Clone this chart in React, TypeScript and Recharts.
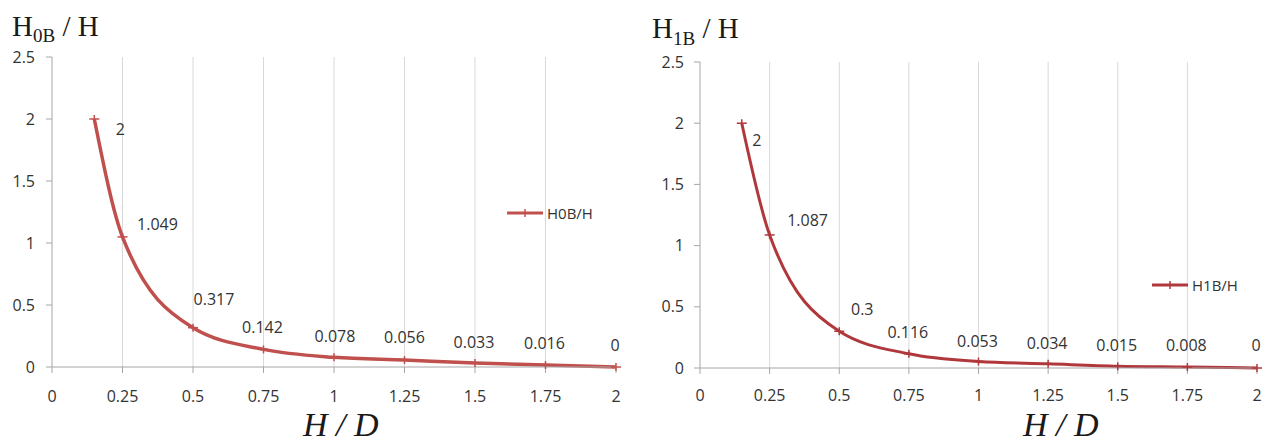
import React from 'react';
import { LineChart, Line, XAxis, YAxis, ReferenceLine, LabelList, Legend } from 'recharts';

// H/D positions of the computed points
const X_VALUES = [0.15, 0.25, 0.5, 0.75, 1, 1.25, 1.5, 1.75, 2];
const H0B_VALUES = [2, 1.049, 0.317, 0.142, 0.078, 0.056, 0.033, 0.016, 0];
const H1B_VALUES = [2, 1.087, 0.3, 0.116, 0.053, 0.034, 0.015, 0.008, 0];

const X_TICKS = [0, 0.25, 0.5, 0.75, 1, 1.25, 1.5, 1.75, 2];
const Y_TICKS = [0, 0.5, 1, 1.5, 2, 2.5];
const GRID_X = [0.25, 0.5, 0.75, 1, 1.25, 1.5, 1.75];

// label nudges (px) so the value labels sit where Excel left them
const H0B_LABEL_SHIFT = [[26, 10], [35, -13], [21, -29], [-1, -22], [1, -21], [0, -23], [-1, -21], [-1, -22], [-1, -22]];
const H1B_LABEL_SHIFT = [[15, 17], [38, -15], [23, -22], [-1, -22], [-1, -21], [-1, -21], [-1, -21], [-1, -22], [-1, -23]];

const FONT = '"Open Sans", sans-serif';
const SERIF = '"Liberation Serif", "Times New Roman", serif';
const TEXT = '#333333';
const AXIS = '#a6a6a6';
const GRID = '#d9d9d9';

const h0bData = X_VALUES.map((x, i) => ({ x, value: H0B_VALUES[i] }));
const h1bData = X_VALUES.map((x, i) => ({ x, value: H1B_VALUES[i] }));

function plusDot(color: string) {
  return (props: any) => {
    const { cx, cy, index } = props;
    if (cx == null || cy == null) return <g key={index} />;
    return (
      <g key={index} stroke={color} strokeWidth={1.5}>
        <line x1={cx - 5} x2={cx + 5} y1={cy} y2={cy} />
        <line x1={cx} x2={cx} y1={cy - 4} y2={cy + 4} />
      </g>
    );
  };
}

function valueLabel(shift: number[][]) {
  return (props: any) => {
    const { x, y, value, index } = props;
    const [dx, dy] = shift[index] || [0, -22];
    return (
      <text x={x + dx} y={y + dy} textAnchor="middle" dominantBaseline="central"
        fontFamily={FONT} fontSize={16} fill={TEXT}>
        {value}
      </text>
    );
  };
}

function legendContent(props: any) {
  const item = (props.payload || [])[0];
  if (!item) return null;
  return (
    <div style={{ display: 'flex', alignItems: 'center', height: 20 }}>
      <svg width={40} height={20}>
        <line x1={2} x2={38} y1={10} y2={10} stroke={item.color} strokeWidth={3} />
        <line x1={20} x2={20} y1={6} y2={14} stroke={item.color} strokeWidth={1.5} />
      </svg>
      <span style={{ fontFamily: FONT, fontSize: 15, color: TEXT, marginLeft: 2 }}>{item.value}</span>
    </div>
  );
}

type PanelProps = {
  data: { x: number; value: number }[];
  name: string;
  color: string;
  strokeWidth: number;
  width: number;
  margin: { top: number; right: number; bottom: number; left: number };
  yTickMargin: number;
  xTickMargin: number;
  labelShift: number[][];
  legendAt: { left: number; top: number };
};

function Panel(p: PanelProps) {
  return (
    <LineChart width={p.width} height={444} data={p.data} margin={p.margin}>
      {GRID_X.map(g => (
        <ReferenceLine key={g} x={g} stroke={GRID} strokeWidth={1} />
      ))}
      <XAxis dataKey="x" type="number" domain={[0, 2]} ticks={X_TICKS} height={30}
        stroke={AXIS} tickSize={6} tickMargin={p.xTickMargin} interval={0}
        tick={{ fill: TEXT, fontFamily: FONT, fontSize: 16 }} />
      <YAxis type="number" domain={[0, 2.5]} ticks={Y_TICKS} width={40}
        stroke={AXIS} tickSize={6} tickMargin={p.yTickMargin} interval={0}
        tick={{ fill: TEXT, fontFamily: FONT, fontSize: 16 }} />
      <Legend layout="horizontal" verticalAlign="middle" align="center"
        content={legendContent}
        wrapperStyle={{ left: p.legendAt.left, top: p.legendAt.top, width: 'auto', margin: 0 }} />
      <Line type="monotone" dataKey="value" name={p.name} stroke={p.color}
        strokeWidth={p.strokeWidth} dot={plusDot(p.color)} activeDot={false}
        isAnimationActive={false}>
        <LabelList dataKey="value" content={valueLabel(p.labelShift)} />
      </Line>
    </LineChart>
  );
}

export default function App() {
  return (
    <div style={{ position: 'absolute', left: 0, top: 0, width: 1262, height: 444, background: '#fff', overflow: 'hidden' }}>
      <div style={{ position: 'absolute', left: 0, top: 0 }}>
        <Panel data={h0bData} name="H0B/H" color="#c0504d" strokeWidth={3.5} width={630}
          margin={{ top: 57, right: 14, bottom: 47, left: 12 }}
          yTickMargin={11} xTickMargin={18} labelShift={H0B_LABEL_SHIFT}
          legendAt={{ left: 505, top: 203 }} />
      </div>
      <div style={{ position: 'absolute', left: 640, top: 0 }}>
        <Panel data={h1bData} name="H1B/H" color="#b0383c" strokeWidth={3} width={622}
          margin={{ top: 62, right: 5, bottom: 46, left: 20 }}
          yTickMargin={10} xTickMargin={16} labelShift={H1B_LABEL_SHIFT}
          legendAt={{ left: 510, top: 275 }} />
      </div>
      <svg width={1262} height={444} style={{ position: 'absolute', left: 0, top: 0, pointerEvents: 'none' }}>
        <g fontFamily={SERIF} fill="#1a1a1a">
          <text x={12} y={36} fontSize={29}>
            H<tspan fontSize={19} dy={6}>0B</tspan><tspan dy={-6}> / H</tspan>
          </text>
          <text x={652} y={38} fontSize={29}>
            H<tspan fontSize={19} dy={7}>1B</tspan><tspan dy={-7}> / H</tspan>
          </text>
          <text x={303} y={436} fontSize={34} fontStyle="italic">H / D</text>
          <text x={1023} y={436} fontSize={34} fontStyle="italic">H / D</text>
        </g>
      </svg>
    </div>
  );
}
